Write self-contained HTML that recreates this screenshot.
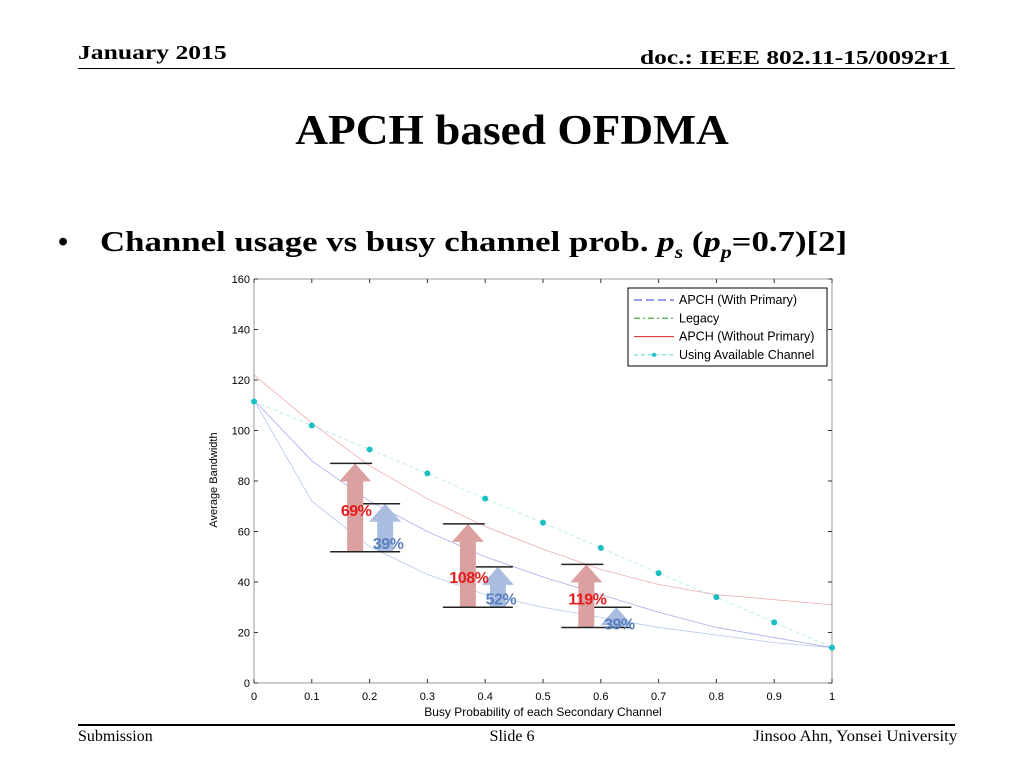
<!DOCTYPE html>
<html><head><meta charset="utf-8"><style>
body{margin:0;width:1024px;height:768px;background:#fff;overflow:hidden;position:relative;font-family:"Liberation Serif",serif}
.t{position:absolute;white-space:nowrap}
</style></head><body>
<div class="t" style="left:78px;top:42px;font-size:20px;font-weight:bold;transform:scaleX(1.28);transform-origin:left">January 2015</div>
<div class="t" style="right:74px;top:47px;font-size:20px;font-weight:bold;transform:scaleX(1.27);transform-origin:right">doc.: IEEE 802.11-15/0092r1</div>
<div style="position:absolute;left:78px;top:68px;width:877px;height:1px;background:#000"></div>
<div class="t" style="left:0;width:1024px;text-align:center;top:107px;font-size:42px;font-weight:bold;transform:scaleX(1.08)">APCH based OFDMA</div>
<div class="t" style="left:58px;top:226px;font-size:29px;font-weight:bold">•</div>
<div class="t" style="left:100px;top:226px;font-size:29px;font-weight:bold;transform:scaleX(1.2);transform-origin:left">Channel usage vs busy channel prob. <i>p<sub style="font-size:18px">s</sub></i> (<i>p<sub style="font-size:18px">p</sub></i>=0.7)[2]</div>
<div style="position:absolute;left:78px;top:724px;width:877px;height:2px;background:#000"></div>
<div class="t" style="left:78px;top:728px;font-size:16px">Submission</div>
<div class="t" style="left:0;width:1024px;text-align:center;top:728px;font-size:16px">Slide 6</div>
<div class="t" style="right:67px;top:728px;font-size:16px;transform:scaleX(1.05);transform-origin:right">Jinsoo Ahn, Yonsei University</div>
<svg id="chart" width="1024" height="768" style="position:absolute;left:0;top:0" font-family="Liberation Sans, sans-serif"></svg>
<script>
const xValues=[0,0.1,0.2,0.3,0.4,0.5,0.6,0.7,0.8,0.9,1];
const withPrimary=[112,88,72,60,50,42,35,28,22,18,14];
const legacy=[112,72,54,43,35,30,26,22,19,16,14];
const withoutPrimary=[122,103,86,73,62,53,45,39,35,33,31];
const availableChannel=[111.5,102,92.5,83,73,63.5,53.5,43.5,34,24,14];
const xTicks=[0,0.1,0.2,0.3,0.4,0.5,0.6,0.7,0.8,0.9,1];
const xTickLabels=["0","0.1","0.2","0.3","0.4","0.5","0.6","0.7","0.8","0.9","1"];
const yTicks=[0,20,40,60,80,100,120,140,160];
const arrowX=[0.175,0.37,0.575];
const arrowBase=[52,30,22];
const redTop=[87,63,47];
const blueTop=[71,46,30];
const redLabels=["69%","108%","119%"];
const blueLabels=["39%","52%","39%"];
const redLabelY=[68.5,42,33.5];
const blueLabelY=[55.5,33.5,23.5];
const L=254,R=832,T=279,B=683;
const sx=v=>L+(R-L)*v, sy=v=>B-(B-T)*v/160;
const svg=document.getElementById('chart'),NS='http://www.w3.org/2000/svg';
function mk(tag,a,parent){const e=document.createElementNS(NS,tag);for(const k in a)e.setAttribute(k,a[k]);(parent||svg).appendChild(e);return e;}
let e=mk('rect',{x:L,y:T,width:R-L,height:B-T,fill:'none',stroke:'#999','stroke-width':1});


xTicks.forEach((v,i)=>{
 mk('line',{x1:sx(v),x2:sx(v),y1:B,y2:B-4,stroke:'#333'});
 mk('line',{x1:sx(v),x2:sx(v),y1:T,y2:T+4,stroke:'#333'});
 const t=mk('text',{x:sx(v),y:B+17,'font-size':11,'text-anchor':'middle'});t.textContent=xTickLabels[i];
 
 
});
yTicks.forEach(v=>{
 mk('line',{x1:L,x2:L+4,y1:sy(v),y2:sy(v),stroke:'#333'});
 mk('line',{x1:R,x2:R-4,y1:sy(v),y2:sy(v),stroke:'#333'});
 const t=mk('text',{x:L-4,y:sy(v)+4,'font-size':11,'text-anchor':'end'});t.textContent=v;
 
 
});
let xt=mk('text',{x:(L+R)/2,y:716,'font-size':12,'text-anchor':'middle'});xt.textContent='Busy Probability of each Secondary Channel';


let yt=mk('text',{x:0,y:0,'font-size':11,'text-anchor':'middle',transform:'translate(217,480) rotate(-90)'});yt.textContent='Average Bandwidth';


function line(arr,col,name,dash){const p=mk('polyline',{points:arr.map((v,i)=>sx(xValues[i])+','+sy(v)).join(' '),fill:'none',stroke:col,'stroke-width':0.8,'stroke-dasharray':dash||'none',opacity:0.5});
 
 }
line(legacy,'#6a8fd8','legacy-line');
line(withPrimary,'#5a5ad8','with-primary-line');
line(withoutPrimary,'#e05a5a','without-primary-line');
line(availableChannel,'#60d0d0','available-channel-line','4 3');
availableChannel.forEach((v,i)=>{const c=mk('circle',{cx:sx(xValues[i]),cy:sy(v),r:3,fill:'#1bbfbf'});
 
 });
function arrow(xc,y0,y1,col,name){const w=8,hw=16,hh=18;
 const g=mk('polygon',{points:`${xc-w},${y0} ${xc+w},${y0} ${xc+w},${y1+hh} ${xc+hw},${y1+hh} ${xc},${y1} ${xc-hw},${y1+hh} ${xc-w},${y1+hh}`,fill:col});
 
 }
arrowX.forEach((xv,i)=>{
 const rx=sx(xv),bx=rx+30,base=sy(arrowBase[i]),rt=sy(redTop[i]),bt=sy(blueTop[i]);
 arrow(rx,base,rt,'#dba0a0','red-gain-arrow');
 arrow(bx,base,bt,'#a9bde0','blue-gain-arrow');
 mk('line',{x1:rx-25,x2:rx+17,y1:rt,y2:rt,stroke:'#222','stroke-width':1.5});
 mk('line',{x1:bx-22,x2:bx+15,y1:bt,y2:bt,stroke:'#222','stroke-width':1.5});
 mk('line',{x1:rx-25,x2:bx+15,y1:base,y2:base,stroke:'#222','stroke-width':1.5});
 const a=mk('text',{x:rx+1,y:sy(redLabelY[i])+6,'font-size':16,'font-weight':'bold',fill:'#e51c1c','text-anchor':'middle','letter-spacing':'-0.5'});a.textContent=redLabels[i];
 
 
 const b=mk('text',{x:bx+3,y:sy(blueLabelY[i])+6,'font-size':16,'font-weight':'bold',fill:'#5a7fbf','text-anchor':'middle','letter-spacing':'-0.5'});b.textContent=blueLabels[i];
 
 
});
const lg=mk('g',{});


mk('rect',{x:628,y:288,width:199,height:78,fill:'#fff',stroke:'#000'},lg);
const items=[['APCH (With Primary)','#3333dd','8 4'],['Legacy','#229922','6 3 2 3'],['APCH (Without Primary)','#dd2222','none'],['Using Available Channel','#55d5d5','4 3']];
items.forEach((it,i)=>{const y=300+i*18.3;
 mk('line',{x1:634,x2:674,y1:y,y2:y,stroke:it[1],'stroke-dasharray':it[2]},lg);
 if(i==3)mk('circle',{cx:654,cy:y,r:2,fill:'#1bbfbf'},lg);
 const t=mk('text',{x:679,y:y+4,'font-size':12.5},lg);t.textContent=it[0];
 
 
});
</script>
</body></html>
